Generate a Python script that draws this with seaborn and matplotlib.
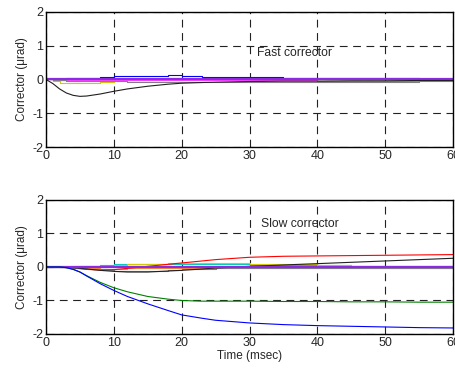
import matplotlib
matplotlib.use('Agg')
import matplotlib.pyplot as plt
import seaborn as sns
import pandas as pd

sns.set_style('white')
plt.rcParams['font.family'] = ['Liberation Sans', 'DejaVu Sans']
plt.rcParams['axes.unicode_minus'] = False

# time axis (msec)
t = [0, 1, 2, 3, 4, 5, 6, 8, 10, 12, 15, 18, 20, 23, 25, 30, 35, 40, 45, 50, 55, 60]

# fast corrector traces (urad)
fast = {
    'blue':    [0, 0, 0.02, 0.03, 0.03, 0.04, 0.05, 0.08, 0.1, 0.11, 0.11, 0.12, 0.1, 0.08, 0.07, 0.06, 0.05, 0.05, 0.05, 0.04, 0.02, 0.01],
    'yellow':  [0, -0.05, -0.09, -0.1, -0.1, -0.1, -0.09, -0.06, -0.03, 0.0, 0.02, 0.03, 0.02, 0.01, 0.0, 0.0, 0.0, 0.0, 0.0, 0.0, 0.0, 0.0],
    'orange':  [0, -0.02, -0.03, -0.03, -0.04, -0.03, -0.03, -0.02, -0.02, -0.01, -0.01, -0.01, 0.0, 0.0, 0.0, 0.0, 0.0, 0.0, 0.0, 0.0, 0.0, 0.0],
    'magenta': [0, -0.01, -0.02, -0.02, -0.02, -0.02, -0.02, -0.02, -0.02, -0.02, -0.02, -0.02, -0.02, -0.03, -0.03, -0.03, -0.03, -0.04, -0.04, -0.04, -0.03, -0.03],
    'gray':    [0, -0.02, -0.03, -0.04, -0.04, -0.05, -0.05, -0.05, -0.05, -0.06, -0.06, -0.06, -0.06, -0.06, -0.06, -0.06, -0.06, -0.06, -0.06, -0.06, -0.05, -0.05],
    'purple':  [0, 0, 0, 0, 0, 0, 0, 0, 0, 0, 0, 0, 0, 0, 0, 0, 0, 0, 0, 0, 0, 0],
    'black':   [0, -0.12, -0.28, -0.4, -0.47, -0.5, -0.49, -0.43, -0.35, -0.28, -0.2, -0.14, -0.11, -0.09, -0.08, -0.06, -0.05, -0.05, -0.04, -0.04, -0.03, -0.03],
}

# slow corrector traces (urad)
slow = {
    'cyan':    [0, 0, 0, 0.01, 0.02, 0.03, 0.04, 0.06, 0.08, 0.09, 0.1, 0.1, 0.1, 0.09, 0.08, 0.07, 0.06, 0.05, 0.04, 0.04, 0.03, 0.03],
    'yellow':  [0, 0, 0, 0.0, 0.01, 0.02, 0.03, 0.04, 0.06, 0.08, 0.1, 0.11, 0.12, 0.12, 0.12, 0.1, 0.08, 0.06, 0.04, 0.03, 0.02, 0.02],
    'orange':  [0, 0, 0, -0.01, -0.02, -0.03, -0.04, -0.05, -0.05, -0.04, -0.03, -0.02, -0.02, -0.02, -0.02, -0.02, -0.02, -0.02, -0.02, -0.02, -0.02, -0.02],
    'red':     [0, 0, 0, -0.01, -0.03, -0.05, -0.07, -0.09, -0.08, -0.04, 0.02, 0.08, 0.12, 0.18, 0.22, 0.29, 0.32, 0.33, 0.34, 0.35, 0.36, 0.37],
    'gray':    [0, 0, 0, -0.01, -0.02, -0.04, -0.06, -0.09, -0.11, -0.12, -0.11, -0.09, -0.07, -0.05, -0.04, -0.03, -0.02, -0.02, -0.02, -0.02, -0.02, -0.02],
    'black':   [0, 0, 0, -0.01, -0.02, -0.04, -0.06, -0.1, -0.13, -0.15, -0.15, -0.12, -0.1, -0.06, -0.03, 0.02, 0.06, 0.1, 0.14, 0.18, 0.22, 0.26],
    'purple':  [0, 0, 0, 0, 0, 0, 0, 0, 0, 0, 0, 0, 0, 0, 0, 0, 0, 0, 0, 0, 0, 0],
    'green':   [0, 0, 0, -0.02, -0.07, -0.15, -0.26, -0.46, -0.62, -0.74, -0.88, -0.96, -1.0, -1.02, -1.02, -1.02, -1.03, -1.03, -1.04, -1.04, -1.05, -1.05],
    'blue':    [0, 0, 0, -0.02, -0.07, -0.15, -0.27, -0.5, -0.7, -0.88, -1.1, -1.3, -1.43, -1.53, -1.59, -1.67, -1.72, -1.75, -1.77, -1.79, -1.81, -1.82],
}

colors = {
    'purple': '#8a2be2', 'blue': '#0000ff', 'yellow': '#d4c800', 'orange': '#ff8c2a',
    'magenta': '#ff40ff', 'gray': '#808080', 'black': '#202020', 'cyan': '#00c8c8',
    'red': '#ff0000', 'green': '#008000',
}
stepped = {'blue', 'yellow', 'orange', 'magenta', 'gray', 'cyan'}


def draw_panel(ax, traces, label, label_xy, step_blue=True):
    for name, vals in traces.items():
        df = pd.DataFrame({'t': t, 'v': vals})
        lw = 1.6 if name == 'purple' else 0.8
        use_step = name in stepped and (name != 'blue' or step_blue)
        sns.lineplot(data=df, x='t', y='v', color=colors[name], linewidth=lw,
                     drawstyle='steps-post' if use_step else 'default', ax=ax)
    ax.set_xlim(0, 60)
    ax.set_ylim(-2, 2)
    ax.set_xticks([0, 10, 20, 30, 40, 50, 60])
    ax.set_yticks([-2, -1, 0, 1, 2])
    ax.grid(True, color='#222222', linestyle=(0, (7, 5)), linewidth=0.8)
    ax.tick_params(direction='in', length=3, labelsize=9, pad=2)
    for s in ax.spines.values():
        s.set_color('black')
        s.set_linewidth(1.0)
    ax.set_ylabel('Corrector (\u03bcrad)', fontsize=8.5, labelpad=3)
    ax.set_xlabel('')
    ax.text(label_xy[0], label_xy[1], label, fontsize=8.7, va='center', ha='left')


fig = plt.figure(figsize=(4.56, 3.7), dpi=100)
ax1 = fig.add_axes([0.1009, 0.6027, 0.8925, 0.365])
ax2 = fig.add_axes([0.1009, 0.0973, 0.8925, 0.3622])

draw_panel(ax1, fast, 'Fast corrector', (31.1, 0.79))
draw_panel(ax2, slow, 'Slow corrector', (31.7, 1.28), step_blue=False)
ax2.set_xlabel('Time (msec)', fontsize=8.5, labelpad=1)

fig.savefig('out.png', dpi=100)
